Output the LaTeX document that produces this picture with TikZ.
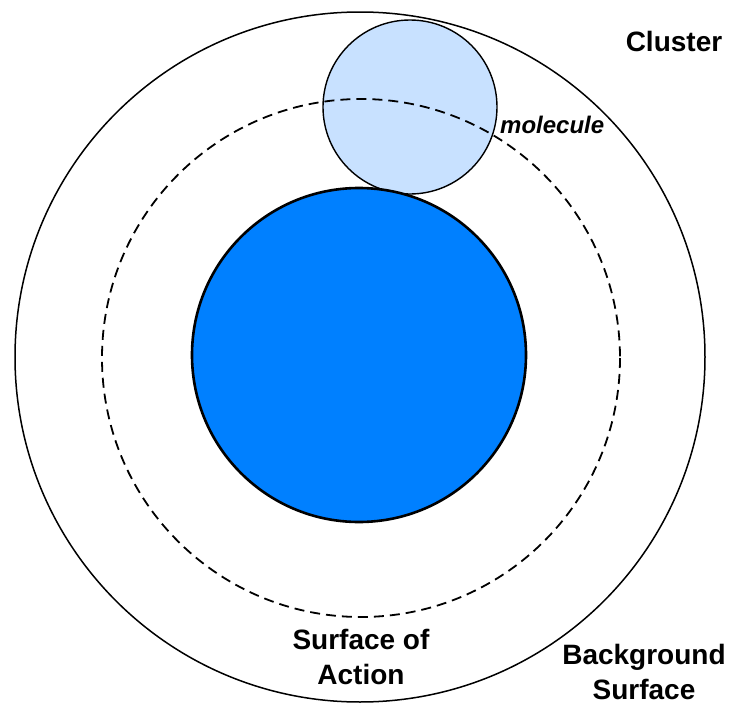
\documentclass[tikz,border=0pt]{standalone}
\usepackage{fontspec}
\setmainfont{Liberation Sans}
\definecolor{coreblue}{RGB}{0,128,255}
\definecolor{molblue}{RGB}{200,225,255}
\begin{document}
\begin{tikzpicture}[x=1pt,y=-1pt,
    lbl/.style={font=\fontsize{28}{35}\selectfont\bfseries, inner sep=0pt, align=center}]
\useasboundingbox (0,0) rectangle (732,704);%

% Drawing molecule
\draw [line width=1.4pt, fill=molblue] (410,107) circle (87);%

% Drawing background surface
\draw [line width=1.5pt] (360,357) circle (345);%

% Drawing surface of action
\draw [line width=1.8pt, dash pattern=on 10pt off 6pt] (361,358) circle (259);%

% Drawing cluster core
\draw [line width=2.6pt, fill=coreblue] (359,355) circle (167);%

% Labels
\node [lbl, anchor=base] (cluster) at (674,52) {Cluster};%
\node [lbl, anchor=base west, font=\fontsize{24}{30}\selectfont\bfseries\itshape] (molecule) at (500,133) {molecule};%
\node [lbl] (action) at (361,657) {Surface of\\Action};%
\node [lbl] (background) at (644,672) {Background\\Surface};%
\end{tikzpicture}
\end{document}
